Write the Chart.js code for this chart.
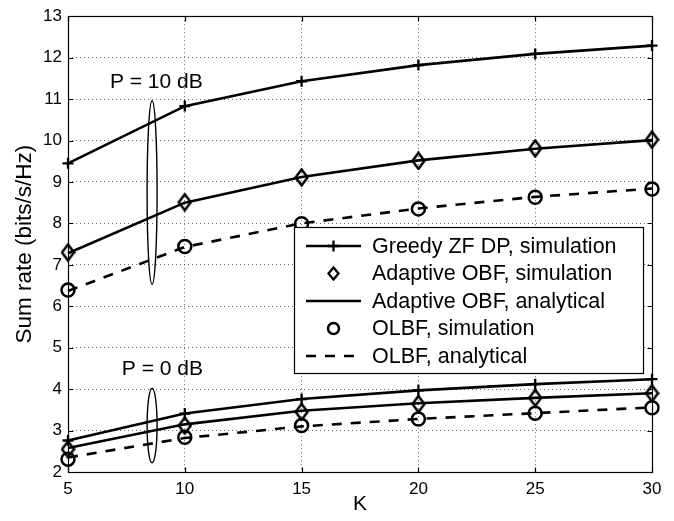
<!DOCTYPE html>
<html>
<head>
<meta charset="utf-8">
<script src="https://cdn.jsdelivr.net/npm/chart.js@4.4.1/dist/chart.umd.min.js"></script>
<style>
  html, body { margin: 0; padding: 0; background: #fff; }
  #wrap { width: 674px; height: 521px; }
</style>
</head>
<body>
<div id="wrap"><canvas id="rateChart"></canvas></div>
<script>
// K values (x axis)
const kValues = [5, 10, 15, 20, 25, 30];

// P = 10 dB
const greedy10 = [9.45, 10.83, 11.43, 11.82, 12.09, 12.29];
const obfSim10 = [7.30, 8.51, 9.11, 9.51, 9.81, 10.02];
const obfAna10 = [7.28, 8.50, 9.12, 9.52, 9.80, 10.01];
const olbfSim10 = [6.39, 7.44, 7.99, 8.35, 8.63, 8.83];
const olbfAna10 = [6.37, 7.43, 8.00, 8.36, 8.64, 8.84];

// P = 0 dB
const greedy0 = [2.76, 3.41, 3.76, 3.97, 4.12, 4.24];
const obfSim0 = [2.55, 3.12, 3.45, 3.64, 3.79, 3.90];
const obfAna0 = [2.58, 3.15, 3.48, 3.66, 3.79, 3.90];
const olbfSim0 = [2.31, 2.84, 3.12, 3.28, 3.42, 3.55];
const olbfAna0 = [2.35, 2.82, 3.10, 3.28, 3.42, 3.56];

const xTicks = [5, 10, 15, 20, 25, 30];
const yTicks = [2, 3, 4, 5, 6, 7, 8, 9, 10, 11, 12, 13];

const legendLabels = [
  'Greedy ZF DP, simulation',
  'Adaptive OBF, simulation',
  'Adaptive OBF, analytical',
  'OLBF, simulation',
  'OLBF, analytical'
];

const FONT = "'Liberation Sans', Arial, Helvetica, sans-serif";
const DASH = [10, 9];
const LW = 2.6;

// diamond marker (taller than wide, like matlab)
function makeDiamond(w, h, lw) {
  const c = document.createElement('canvas');
  c.width = w; c.height = h;
  const g = c.getContext('2d');
  g.strokeStyle = '#000';
  g.lineWidth = lw;
  g.beginPath();
  g.moveTo(w / 2, 1.5);
  g.lineTo(w - 1.5, h / 2);
  g.lineTo(w / 2, h - 1.5);
  g.lineTo(1.5, h / 2);
  g.closePath();
  g.stroke();
  return c;
}
const diamond = makeDiamond(15, 19, 2.5);
const diamondSmall = makeDiamond(13, 15, 2.3);

function series(values, extra) {
  return Object.assign({
    data: kValues.map((k, i) => ({ x: k, y: values[i] })),
    borderColor: '#000',
    backgroundColor: 'rgba(0,0,0,0)',
    borderWidth: LW,
    pointRadius: 0,
    tension: 0,
    fill: false,
    clip: false
  }, extra);
}

const greedyStyle = { pointStyle: 'cross', pointRadius: 5.5, pointBorderWidth: 2.3 };
const diamondStyle = { showLine: false, pointStyle: diamond, pointRadius: 7 };
const circleStyle = { showLine: false, pointStyle: 'circle', pointRadius: 6.5, pointBorderWidth: 2.5 };
const dashStyle = { borderDash: DASH };

const datasets = [
  series(greedy10, greedyStyle),
  series(obfAna10, {}),
  series(obfSim10, diamondStyle),
  series(olbfAna10, dashStyle),
  series(olbfSim10, circleStyle),
  series(greedy0, greedyStyle),
  series(obfAna0, {}),
  series(obfSim0, diamondStyle),
  series(olbfAna0, dashStyle),
  series(olbfSim0, circleStyle)
];

// annotations: ellipses grouping the two power levels, in data units
const groups = [
  { text: 'P = 10 dB', tx: 8.78, ty: 11.4, k: 8.6, lo: 6.53, hi: 10.96 },
  { text: 'P = 0 dB', tx: 9.04, ty: 4.48, k: 8.6, lo: 2.22, hi: 4.02 }
];

const matlabDecor = {
  id: 'matlabDecor',
  afterDatasetsDraw(chart) {
    const ctx = chart.ctx;
    const area = chart.chartArea;
    const xs = chart.scales.x;
    const ys = chart.scales.y;

    ctx.save();
    // ellipses + labels
    ctx.strokeStyle = '#000';
    ctx.fillStyle = '#000';
    ctx.lineWidth = 1.4;
    ctx.font = '21px ' + FONT;
    ctx.textAlign = 'center';
    ctx.textBaseline = 'middle';
    groups.forEach(g => {
      const cx = xs.getPixelForValue(g.k);
      const top = ys.getPixelForValue(g.hi);
      const bot = ys.getPixelForValue(g.lo);
      ctx.beginPath();
      ctx.ellipse(cx, (top + bot) / 2, 5, (bot - top) / 2, 0, 0, Math.PI * 2);
      ctx.stroke();
      ctx.fillText(g.text, xs.getPixelForValue(g.tx), ys.getPixelForValue(g.ty));
    });

    // frame with inward ticks
    const L = Math.round(area.left) + 0.5, R = Math.round(area.right) + 0.5;
    const T = Math.round(area.top) + 0.5, B = Math.round(area.bottom) + 0.5;
    ctx.lineWidth = 1.2;
    ctx.strokeRect(L, T, R - L, B - T);
    ctx.beginPath();
    xTicks.forEach(v => {
      const px = Math.round(xs.getPixelForValue(v)) + 0.5;
      ctx.moveTo(px, B); ctx.lineTo(px, B - 5);
      ctx.moveTo(px, T); ctx.lineTo(px, T + 5);
    });
    yTicks.forEach(v => {
      const py = Math.round(ys.getPixelForValue(v)) + 0.5;
      ctx.moveTo(L, py); ctx.lineTo(L + 5, py);
      ctx.moveTo(R, py); ctx.lineTo(R - 5, py);
    });
    ctx.stroke();

    // legend box
    const bx = 294.5, by = 227.5, bw = 349, bh = 146;
    ctx.fillStyle = '#fff';
    ctx.fillRect(bx, by, bw, bh);
    ctx.strokeRect(bx, by, bw, bh);
    const x0 = 306, x1 = 361, xm = (x0 + x1) / 2;
    ctx.fillStyle = '#000';
    ctx.lineWidth = LW;
    ctx.font = '21.5px ' + FONT;
    ctx.textAlign = 'left';
    legendLabels.forEach((label, i) => {
      const y = 246 + i * 27.5;
      ctx.beginPath();
      if (i === 0 || i === 2 || i === 4) {
        ctx.setLineDash(i === 4 ? DASH : []);
        ctx.moveTo(x0, y); ctx.lineTo(x1, y);
        ctx.stroke();
        ctx.setLineDash([]);
      }
      if (i === 0) {
        ctx.lineWidth = 2.3;
        ctx.beginPath();
        ctx.moveTo(xm - 5.5, y); ctx.lineTo(xm + 5.5, y);
        ctx.moveTo(xm, y - 5.5); ctx.lineTo(xm, y + 5.5);
        ctx.stroke();
        ctx.lineWidth = LW;
      } else if (i === 1) {
        ctx.drawImage(diamondSmall, xm - 6.5, y - 7.5);
      } else if (i === 3) {
        ctx.lineWidth = 2.5;
        ctx.beginPath();
        ctx.arc(xm, y, 5.5, 0, Math.PI * 2);
        ctx.stroke();
        ctx.lineWidth = LW;
      }
      ctx.fillText(label, 372, y + 1);
    });
    ctx.restore();
  }
};

new Chart(document.getElementById('rateChart'), {
  type: 'line',
  data: { datasets: datasets },
  plugins: [matlabDecor],
  options: {
    responsive: true,
    maintainAspectRatio: false,
    animation: false,
    layout: { padding: { top: 10, right: 22, left: 0, bottom: 0 } },
    plugins: { legend: { display: false }, tooltip: { enabled: false } },
    scales: {
      x: {
        type: 'linear',
        min: 5,
        max: 30,
        afterBuildTicks: s => { s.ticks = xTicks.map(v => ({ value: v })); },
        afterFit: s => { s.height = 49; },
        ticks: { color: '#000', padding: 7, font: { family: FONT, size: 17 } },
        grid: { color: 'rgba(0,0,0,0.6)', lineWidth: 1, drawTicks: false },
        border: { display: false, dash: [1, 3] },
        title: { display: true, text: 'K', color: '#000', padding: { top: 0, bottom: 4 }, font: { family: FONT, size: 21 } }
      },
      y: {
        min: 2,
        max: 13,
        afterBuildTicks: s => { s.ticks = yTicks.map(v => ({ value: v })); },
        afterFit: s => { s.width = 68; },
        ticks: { color: '#000', padding: 6, font: { family: FONT, size: 17 } },
        grid: { color: 'rgba(0,0,0,0.6)', lineWidth: 1, drawTicks: false },
        border: { display: false, dash: [1, 3] },
        title: { display: true, text: 'Sum rate (bits/s/Hz)', color: '#000', padding: { top: 11, bottom: 0 }, font: { family: FONT, size: 22.5 } }
      }
    }
  }
});
</script>
</body>
</html>
